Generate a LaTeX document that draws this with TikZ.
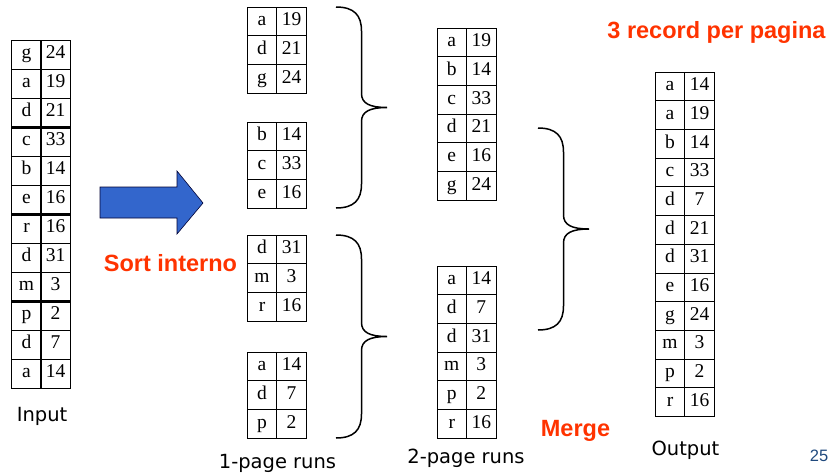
\documentclass[tikz,border=0pt]{standalone}
\usepackage{fontspec}
\setmainfont{Liberation Serif}
\newfontfamily\labfont{Liberation Sans}
\newfontfamily\runfont{DejaVu Sans}
\definecolor{sortred}{RGB}{255,51,0}
\definecolor{arrowblue}{RGB}{51,102,204}
\definecolor{pageblue}{RGB}{31,73,125}

% right-facing brace: x, top, bottom
\newcommand{\runbrace}[3]{%
  \pgfmathsetmacro\bmid{(#2+#3)/2}
  \draw[bracel] (#1,#2) .. controls ({#1+18},#2) and ({#1+25.5},{#2+8}) .. ({#1+25.5},{#2+24})
    -- ({#1+25.5},{\bmid-14}) .. controls ({#1+25.5},{\bmid-4}) and ({#1+34},\bmid) .. ({#1+51},\bmid)
    .. controls ({#1+34},\bmid) and ({#1+25.5},{\bmid+4}) .. ({#1+25.5},{\bmid+14})
    -- ({#1+25.5},{#3-24}) .. controls ({#1+25.5},{#3-8}) and ({#1+18},#3) .. (#1,#3);
}

\tikzset{
  cell/.style={draw, line width=0.8pt, minimum width=29.5pt, minimum height=28.7pt,
    inner sep=0pt, text height=13pt, text depth=4.5pt, font=\fontsize{19.5}{21}\selectfont},
  sepline/.style={line width=2.6pt},
  bracel/.style={line width=1.5pt},
  runlabel/.style={inner sep=0pt, font=\runfont\fontsize{19.5}{21}\selectfont},
  redlabel/.style={inner sep=0pt, text=sortred, font=\labfont\bfseries\fontsize{23.5}{26}\selectfont},
  pagenum/.style={inner sep=0pt, text=pageblue, font=\labfont\fontsize{16.5}{18}\selectfont}
}

\begin{document}
\begin{tikzpicture}[x=1pt, y=-1pt]
  \useasboundingbox (0,0) rectangle (831,472);

  % input file
  \foreach \k/\v [count=\i] in {g/24, a/19, d/21, c/33, b/14, e/16, r/16, d/31, m/3, p/2, d/7, a/14} {
    \node[cell, minimum height=29pt] (ink\i) at (26.5, {25.5+29*\i}) {\k};
    \node[cell, minimum height=29pt] (inv\i) at (55.5, {25.5+29*\i}) {\v};
  }
  \draw[sepline] (ink3.south west) -- (inv3.south east);
  \draw[sepline] (ink6.south west) -- (inv6.south east);
  \draw[sepline] (ink9.south west) -- (inv9.south east);
  \node[runlabel, anchor=base] (inlbl) at (42, 421) {Input};

  % sort arrow
  \draw[fill=arrowblue, draw=black!80!blue, line width=0.6pt]
    (100,187) -- (177,187) -- (177,171) -- (203,203) -- (177,234) -- (177,218) -- (100,218) -- cycle;
  \node[redlabel, anchor=base] (sortlbl) at (170.5, 271) {Sort interno};

  % 1-page runs
  \foreach \k/\v [count=\i] in {a/19, d/21, g/24} {
    \node[cell] (aak\i) at (262, {-7.35+28.7*\i}) {\k};
    \node[cell] (aav\i) at (291.5, {-7.35+28.7*\i}) {\v};
  }
  \foreach \k/\v [count=\i] in {b/14, c/33, e/16} {
    \node[cell] (abk\i) at (262, {107.65+28.7*\i}) {\k};
    \node[cell] (abv\i) at (291.5, {107.65+28.7*\i}) {\v};
  }
  \foreach \k/\v [count=\i] in {d/31, m/3, r/16} {
    \node[cell] (ack\i) at (262, {220.65+28.7*\i}) {\k};
    \node[cell] (acv\i) at (291.5, {220.65+28.7*\i}) {\v};
  }
  \foreach \k/\v [count=\i] in {a/14, d/7, p/2} {
    \node[cell] (adk\i) at (262, {337.65+28.7*\i}) {\k};
    \node[cell] (adv\i) at (291.5, {337.65+28.7*\i}) {\v};
  }
  \node[runlabel, anchor=base] (r1lbl) at (277.5, 468) {1-page runs};

  \runbrace{336}{7}{208}
  \runbrace{336}{235}{438}

  % 2-page runs
  \foreach \k/\v [count=\i] in {a/19, b/14, c/33, d/21, e/16, g/24} {
    \node[cell] (bak\i) at (451.75, {13.65+28.7*\i}) {\k};
    \node[cell] (bav\i) at (481.25, {13.65+28.7*\i}) {\v};
  }
  \foreach \k/\v [count=\i] in {a/14, d/7, d/31, m/3, p/2, r/16} {
    \node[cell] (bbk\i) at (451.75, {251.65+28.7*\i}) {\k};
    \node[cell] (bbv\i) at (481.25, {251.65+28.7*\i}) {\v};
  }
  \node[runlabel, anchor=base] (r2lbl) at (466, 463) {2-page runs};

  \runbrace{538}{128}{330}
  \node[redlabel, anchor=base] (mergelbl) at (575.5, 436) {Merge};

  % output file
  \foreach \k/\v [count=\i] in {a/14, a/19, b/14, c/33, d/7, d/21, d/31, e/16, g/24, m/3, p/2, r/16} {
    \node[cell] (outk\i) at (670, {57.65+28.7*\i}) {\k};
    \node[cell] (outv\i) at (699.5, {57.65+28.7*\i}) {\v};
  }
  \node[runlabel, anchor=base] (outlbl) at (685.5, 455) {Output};

  \node[redlabel, anchor=base] (pglbl) at (716.5, 38) {3 record per pagina};
  \node[pagenum, anchor=base] (pagenum) at (819, 461) {25};
\end{tikzpicture}
\end{document}
